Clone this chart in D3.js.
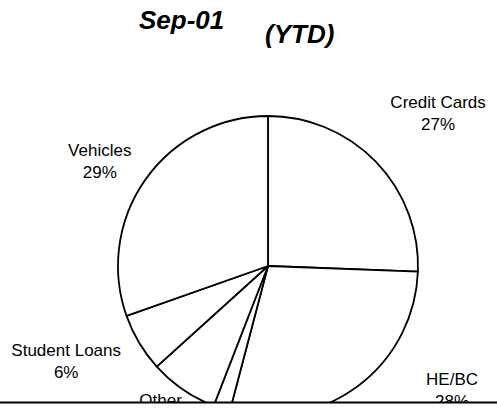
<!DOCTYPE html>
<html>
<head>
<meta charset="utf-8">
<script src="https://cdn.jsdelivr.net/npm/d3@7"></script>
<style>
  body { margin: 0; background: #fff; }
  svg { display: block; }
</style>
</head>
<body>
<div id="chart"></div>
<script>
// slice shares (clockwise from 12 o'clock)
var categories = ["Credit Cards", "HE/BC", "Mortgage", "Other", "Student Loans", "Vehicles"];
var shares = [25.6, 28.5, 1.8, 7.4, 6.3, 30.4];
// percentages as printed on the labels (the small slice's label is cut off)
var pctLabels = ["27%", "28%", null, "", "6%", "29%"];
var titleMonth = "Sep-01";
var titlePeriod = "(YTD)";

var width = 497
 ,  height = 409
 ,  cx = 268
 ,  cy = 266
 ,  radius = 150
 ,  cutY = 402;

// hand nudges so labels sit where the original places them
var labelNudge = {
  "Credit Cards": [26, -19],
  "HE/BC": [65, -42],
  "Other": [6, -25],
  "Student Loans": [-30, -12],
  "Vehicles": [-5, 6]
};

var data = categories.map(function(c, i) {
  return {name: c, value: shares[i], pct: pctLabels[i]};
});

var svg = d3.select("#chart")
  .append("svg")
    .attr("width", width)
    .attr("height", height);

svg.append("rect")
  .attr("width", width)
  .attr("height", height)
  .attr("fill", "#fff");

svg.append("defs").append("clipPath")
    .attr("id", "cut")
  .append("rect")
    .attr("x", 0)
    .attr("y", 0)
    .attr("width", width)
    .attr("height", cutY);

// title
svg.append("text")
  .attr("x", 139)
  .attr("y", 29)
  .attr("font-family", "Liberation Sans, Arial, sans-serif")
  .attr("font-size", "26px")
  .attr("font-weight", "bold")
  .attr("font-style", "italic")
  .text(titleMonth);

svg.append("text")
  .attr("x", 265)
  .attr("y", 43)
  .attr("font-family", "Liberation Sans, Arial, sans-serif")
  .attr("font-size", "26px")
  .attr("font-weight", "bold")
  .attr("font-style", "italic")
  .text(titlePeriod);

var pie = d3.pie()
  .sort(null)
  .value(function(d) { return d.value; });

var arc = d3.arc()
  .innerRadius(0)
  .outerRadius(radius);

var labelArc = d3.arc()
  .innerRadius(200)
  .outerRadius(200);

var arcs = pie(data);

var g = svg.append("g")
  .attr("clip-path", "url(#cut)");

var pieG = g.append("g")
  .attr("transform", "translate(" + cx + "," + cy + ")");

pieG.selectAll(".slice").data(arcs)
  .enter().append("path")
    .attr("class", "slice")
    .attr("d", arc)
    .attr("fill", "#fff")
    .attr("stroke", "#000")
    .attr("stroke-width", 1.8)
    .attr("stroke-linejoin", "round");

var label = pieG.selectAll(".label").data(arcs.filter(function(d) { return d.data.pct !== null; }))
  .enter().append("text")
    .attr("class", "label")
    .attr("font-family", "Liberation Sans, Arial, sans-serif")
    .attr("font-size", "17px")
    .attr("text-anchor", "middle")
    .attr("transform", function(d) {
      var c = labelArc.centroid(d)
       ,  n = labelNudge[d.data.name] || [0, 0];
      return "translate(" + (c[0] + n[0]) + "," + (c[1] + n[1]) + ")";
    });

label.append("tspan")
  .attr("x", 0)
  .attr("y", 0)
  .text(function(d) { return d.data.name; });

label.append("tspan")
  .attr("x", 0)
  .attr("y", 22)
  .text(function(d) { return d.data.pct; });

// bottom rule where the picture is cut
svg.append("line")
  .attr("x1", 0)
  .attr("x2", width)
  .attr("y1", cutY + 0.5)
  .attr("y2", cutY + 0.5)
  .attr("stroke", "#000")
  .attr("stroke-width", 2);
</script>
</body>
</html>
